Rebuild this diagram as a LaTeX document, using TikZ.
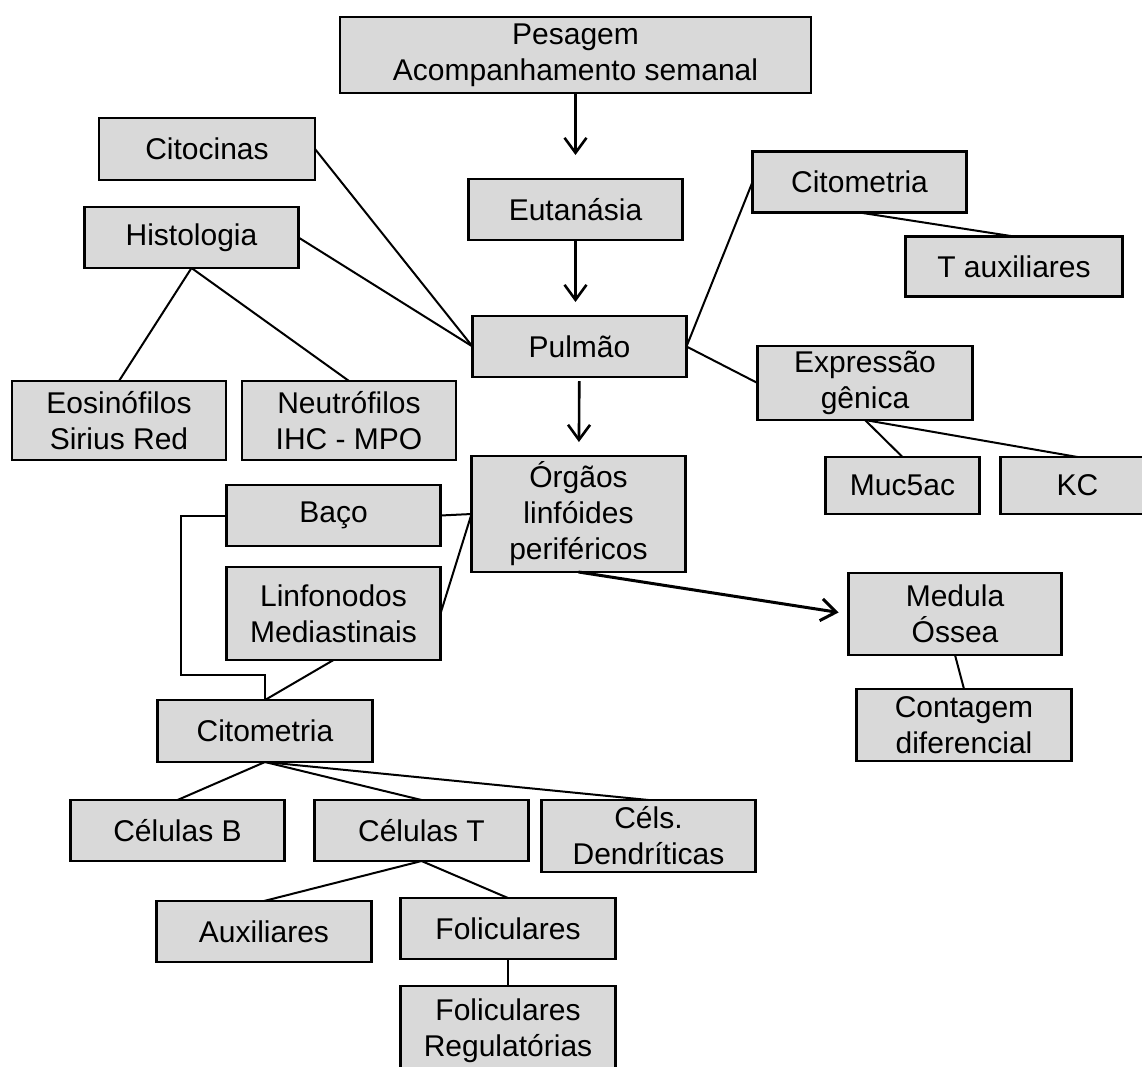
\documentclass[tikz,border=0pt]{standalone}
\usepackage{fontspec}
\setmainfont{Liberation Sans}
\usetikzlibrary{positioning,arrows.meta}
\definecolor{cinza}{RGB}{217,217,217}
\tikzset{
    caixa/.style={draw, line width=2.5pt, fill=cinza, minimum width=214pt, minimum height=61pt,
        inner sep=0pt, outer sep=0pt, align=center, font=\fontsize{30}{36}\selectfont},
    liga/.style={line width=2pt},
    seta/.style={line width=2.6pt, -{Straight Barb[length=15pt,width=22pt]}},
}

\begin{document}
\begin{tikzpicture}

    \useasboundingbox (0,0) rectangle (1142pt,-1066pt); % page size

    % main column
    \node [caixa, minimum width=471pt, minimum height=76pt] (pes) at (575.5pt,-55pt) {Pesagem\\Acompanhamento semanal};
    \node [caixa, below=86pt of pes] (eut) {Eutanásia};
    \node [caixa, below=76pt of eut, xshift=4pt] (pulm) {Pulmão};
    \node [caixa, below=79pt of pulm, xshift=-1pt, minimum height=116pt] (org) {Órgãos\\linfóides\\periféricos};

    % lung, left side
    \node [caixa, left=25pt of pes, yshift=-94pt, minimum width=216pt, minimum height=62pt] (cito) {Citocinas};
    \node [caixa, below=27pt of cito, xshift=-15.5pt] (histo) {Histologia};
    \node [caixa, below=113pt of histo, xshift=-72.5pt, minimum height=79pt] (eos) {Eosinófilos\\Sirius Red};
    \node [caixa, right=16pt of eos, minimum height=79pt] (neut) {Neutrófilos\\IHC - MPO};

    % lung, right side
    \node [caixa, right=70pt of eut, yshift=27.5pt] (citoA) {Citometria};
    \node [caixa, below=24pt of citoA, xshift=154.5pt, minimum width=217pt, minimum height=60pt] (taux) {T auxiliares};
    \node [caixa, right=71pt of pulm, yshift=-36.5pt, minimum width=215pt, minimum height=74pt] (expr) {Expressão\\gênica};
    \node [caixa, below=37pt of expr, xshift=37.5pt, minimum width=154pt, minimum height=57pt] (muc) {Muc5ac};
    \node [caixa, right=21pt of muc, minimum width=154pt, minimum height=57pt] (kc) {KC};

    % lymphoid organs
    \node [caixa, left=31pt of org, yshift=-1.5pt] (baco) {Baço};
    \node [caixa, below=21pt of baco, minimum height=93pt] (linf) {Linfonodos\\Mediastinais};
    \node [caixa, below=40pt of linf, xshift=-68.5pt, minimum width=215pt, minimum height=62pt] (citoB) {Citometria};
    \node [caixa, right=163pt of org, yshift=-100pt, minimum width=213pt, minimum height=82pt] (med) {Medula\\Óssea};
    \node [caixa, below=34pt of med, xshift=9pt, minimum width=215pt, minimum height=72pt] (cont) {Contagem\\diferencial};

    % cell types
    \node [caixa, below=38pt of citoB, xshift=156.5pt] (celT) {Células T};
    \node [caixa, left=30pt of celT] (celB) {Células B};
    \node [caixa, right=13pt of celT, yshift=-5.5pt, minimum height=72pt] (dend) {Céls.\\Dendríticas};
    \node [caixa, below=40pt of celB, xshift=86.5pt, minimum width=215pt] (aux) {Auxiliares};
    \node [caixa, below=37pt of celT, xshift=86.5pt, minimum width=215pt] (fol) {Foliculares};
    \node [caixa, below=27pt of fol, minimum width=215pt, minimum height=90pt] (folreg) {Foliculares\\Regulatórias};

    % arrows
    \draw [seta, shorten >=24pt] (pes) -- (eut);
    \draw [seta, shorten >=14pt] (eut.south) -- (eut.south |- pulm.north);
    \draw [seta, shorten <=4pt, shorten >=14pt] (pulm) -- (org);
    \draw [seta, line width=3pt, shorten >=10pt] (org.south) -- (med.west);

    % lines
    \draw [liga] (cito.east) -- (pulm.west);
    \draw [liga] (histo.east) -- (pulm.west);
    \draw [liga] (histo.south) -- (eos.north);
    \draw [liga] (histo.south) -- (neut.north);
    \draw [liga] (pulm.east) -- (citoA.west);
    \draw [liga] (citoA.south) -- (taux.north);
    \draw [liga] (pulm.east) -- (expr.west);
    \draw [liga] (expr.south) -- (muc.north);
    \draw [liga] (expr.south) -- (kc.north);
    \draw [liga] (baco.east) -- (org.west);
    \draw [liga] (linf.east) -- (org.west);
    \draw [liga] (baco.west) -- ++(-46pt,0) |- ([yshift=25pt]citoB.north) -- (citoB.north);
    \draw [liga] (linf.south) -- (citoB.north);
    \draw [liga] (med.south) -- (cont.north);
    \draw [liga] (citoB.south) -- (celB.north);
    \draw [liga] (citoB.south) -- (celT.north);
    \draw [liga] (citoB.south) -- (dend.north);
    \draw [liga] (celT.south) -- (aux.north);
    \draw [liga] (celT.south) -- (fol.north);
    \draw [liga] (fol.south) -- (folreg.north);

\end{tikzpicture}
\end{document}
